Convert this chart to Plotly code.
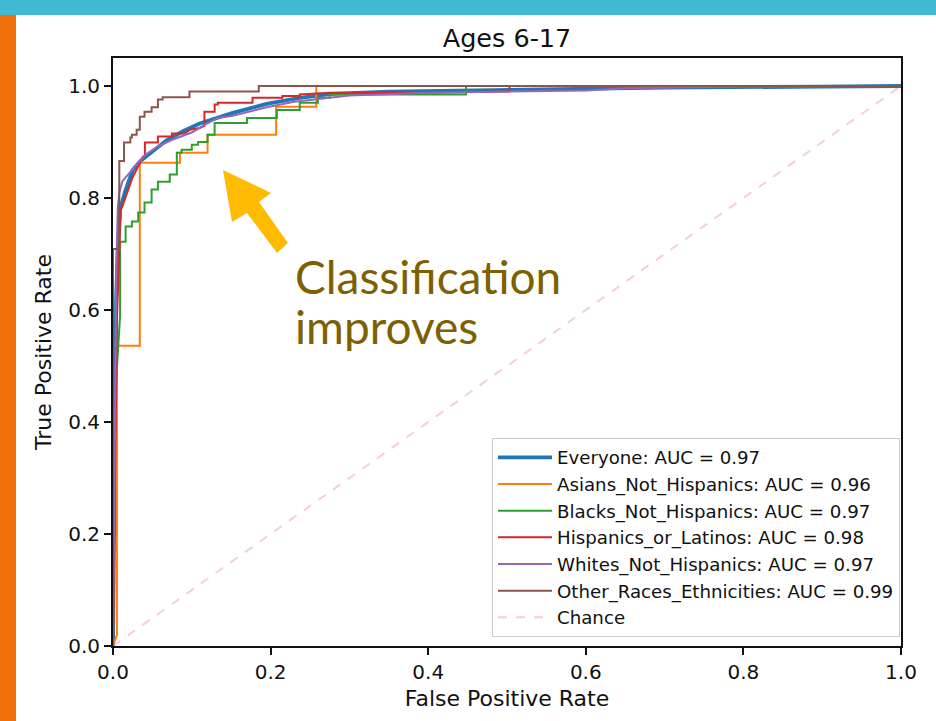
import plotly.graph_objects as go

# ---------------- data ----------------
group_names = ["Everyone", "Asians_Not_Hispanics", "Blacks_Not_Hispanics",
               "Hispanics_or_Latinos", "Whites_Not_Hispanics", "Other_Races_Ethnicities"]
auc_values = [0.97, 0.96, 0.97, 0.98, 0.97, 0.99]
colors = ["#1f77b4", "#ff7f0e", "#2ca02c", "#d62728", "#9467bd", "#8c564b"]

fpr_everyone = [0, 0.002, 0.004, 0.006, 0.009, 0.015, 0.025, 0.034, 0.047, 0.068, 0.09, 0.11,
                0.152, 0.195, 0.237, 0.278, 0.35, 0.5, 0.7, 0.9, 1.0]
tpr_everyone = [0, 0.40, 0.62, 0.71, 0.78, 0.81, 0.85, 0.865, 0.88, 0.903, 0.92, 0.933,
                0.952, 0.968, 0.979, 0.986, 0.99, 0.993, 0.997, 0.999, 1.0]

fpr_asians = [0, 0.005, 0.005, 0.034, 0.034, 0.085, 0.085, 0.12, 0.12, 0.207, 0.207, 0.258, 0.258, 1.0]
tpr_asians = [0, 0.02, 0.536, 0.536, 0.863, 0.863, 0.881, 0.881, 0.913, 0.913, 0.963, 0.963, 1.0, 1.0]

fpr_blacks = [0, 0.003, 0.009, 0.009, 0.016, 0.016, 0.024, 0.024, 0.032, 0.032, 0.040, 0.040,
              0.049, 0.049, 0.057, 0.057, 0.072, 0.072, 0.081, 0.081, 0.087, 0.087, 0.100, 0.100,
              0.108, 0.108, 0.120, 0.120, 0.129, 0.129, 0.170, 0.170, 0.208, 0.208, 0.237, 0.237,
              0.260, 0.260, 0.275, 0.275, 0.448, 0.448, 1.0]
tpr_blacks = [0, 0.45, 0.59, 0.722, 0.722, 0.749, 0.749, 0.758, 0.758, 0.774, 0.774, 0.792,
              0.792, 0.815, 0.815, 0.829, 0.829, 0.842, 0.842, 0.881, 0.881, 0.886, 0.886, 0.895,
              0.895, 0.900, 0.900, 0.913, 0.913, 0.934, 0.934, 0.943, 0.943, 0.957, 0.957, 0.970,
              0.970, 0.979, 0.979, 0.985, 0.985, 1.0, 1.0]

fpr_hispanics = [0, 0.0025, 0.005, 0.0076, 0.010, 0.0127, 0.0177, 0.0215, 0.0253, 0.0304, 0.0342,
                 0.038, 0.0405, 0.0405, 0.057, 0.057, 0.0747, 0.0747, 0.0911, 0.0975, 0.110,
                 0.116, 0.116, 0.129, 0.129, 0.133, 0.133, 0.177, 0.177, 0.215, 0.215, 0.237,
                 0.237, 0.275, 0.389, 0.503, 0.503, 1.0]
tpr_hispanics = [0, 0.349, 0.582, 0.695, 0.779, 0.788, 0.811, 0.824, 0.838, 0.851, 0.863,
                 0.874, 0.874, 0.899, 0.899, 0.910, 0.910, 0.915, 0.915, 0.922, 0.925,
                 0.929, 0.954, 0.954, 0.967, 0.967, 0.970, 0.970, 0.979, 0.979, 0.982, 0.982,
                 0.985, 0.988, 0.988, 0.990, 1.0, 1.0]

fpr_whites = [0, 0.002, 0.004, 0.006, 0.008, 0.012, 0.022, 0.032, 0.041, 0.057, 0.075, 0.087,
              0.1, 0.117, 0.133, 0.152, 0.195, 0.23, 0.3, 0.4, 0.6, 0.65, 0.8, 1.0]
tpr_whites = [0, 0.30, 0.65, 0.78, 0.81, 0.83, 0.847, 0.863, 0.877, 0.892, 0.904, 0.91,
              0.917, 0.931, 0.943, 0.947, 0.962, 0.972, 0.983, 0.988, 0.992, 0.996, 0.999, 1.0]

fpr_other = [0, 0, 0.008, 0.008, 0.014, 0.014, 0.022, 0.022, 0.024, 0.024, 0.030, 0.030,
             0.034, 0.034, 0.040, 0.040, 0.049, 0.049, 0.057, 0.057, 0.063, 0.063, 0.097,
             0.097, 0.185, 0.185, 1.0]
tpr_other = [0, 0.709, 0.709, 0.866, 0.866, 0.899, 0.899, 0.908, 0.908, 0.913, 0.913, 0.922,
             0.922, 0.945, 0.945, 0.954, 0.954, 0.962, 0.962, 0.976, 0.976, 0.980, 0.980,
             0.990, 0.990, 1.0, 1.0]

chance_x = [0, 1]
chance_y = [0, 1]

x_ticks = [0.0, 0.2, 0.4, 0.6, 0.8, 1.0]
y_ticks = [0.0, 0.2, 0.4, 0.6, 0.8, 1.0]

title_text = "Ages 6-17"
x_label = "False Positive Rate"
y_label = "True Positive Rate"
note_lines = ["Classification", "improves"]

# ---------------- layout geometry ----------------
W, H = 936, 721
L, R, T, B = 113, 35, 58, 75
PW, PH = W - L - R, H - T - B


def px(x):
    return (x - L) / PW


def py(y):
    return (H - B - y) / PH


curves = [(fpr_everyone, tpr_everyone), (fpr_asians, tpr_asians), (fpr_blacks, tpr_blacks),
          (fpr_hispanics, tpr_hispanics), (fpr_whites, tpr_whites), (fpr_other, tpr_other)]

fig = go.Figure()
for i, (fx, ty) in enumerate(curves):
    fig.add_trace(go.Scatter(
        x=fx, y=ty, mode="lines",
        name=f"{group_names[i]}: AUC = {auc_values[i]:.2f}",
        line=dict(color=colors[i], width=3.8 if i == 0 else 2),
    ))
fig.add_trace(go.Scatter(x=chance_x, y=chance_y, mode="lines", name="Chance",
                         line=dict(color="rgba(227,119,194,0.38)", width=2, dash="dash")))

axis_font = dict(family="DejaVu Sans", size=20, color="#111")
label_font = dict(family="DejaVu Sans", size=22, color="#111")
fig.update_xaxes(range=[0, 1], tickvals=x_ticks, tickformat=".1f", ticks="outside", ticklen=7,
                 tickwidth=1.5, tickcolor="#111", showline=True, linecolor="#111", linewidth=2,
                 mirror=True, showgrid=False, zeroline=False, tickfont=axis_font,
                 title=dict(text=x_label, font=label_font, standoff=8))
fig.update_yaxes(range=[0, 1.05], tickvals=y_ticks, tickformat=".1f", ticks="outside", ticklen=7,
                 tickwidth=1.5, tickcolor="#111", showline=True, linecolor="#111", linewidth=2,
                 mirror=True, showgrid=False, zeroline=False, tickfont=axis_font,
                 title=dict(text=y_label, font=label_font, standoff=10))

shapes = [
    dict(type="rect", xref="paper", yref="paper", x0=px(0), x1=px(W), y0=py(15), y1=py(0),
         fillcolor="#41bbd4", line=dict(width=0), layer="above"),
    dict(type="rect", xref="paper", yref="paper", x0=px(0), x1=px(16), y0=py(H), y1=py(15),
         fillcolor="#f0720e", line=dict(width=0), layer="above"),
]
arrow_pts = [(223, 170), (271, 193), (259, 202), (288, 243), (277, 253), (247, 213), (232, 222)]
path = "M " + " L ".join(f"{px(a):.5f},{py(b):.5f}" for a, b in arrow_pts) + " Z"
shapes.append(dict(type="path", xref="paper", yref="paper", path=path,
                   fillcolor="#ffbb00", line=dict(width=0), layer="above"))

annotations = [
    dict(text=note_lines[0], xref="paper", yref="paper", x=px(293), y=py(276),
         xanchor="left", yanchor="middle", showarrow=False, height=50, valign="middle",
         font=dict(family="Lato", size=46, color="#7f6000")),
    dict(text=note_lines[1], xref="paper", yref="paper", x=px(293), y=py(326),
         xanchor="left", yanchor="middle", showarrow=False, height=50, valign="middle",
         font=dict(family="Lato", size=46, color="#7f6000")),
]

fig.update_layout(
    width=W, height=H, autosize=False,
    margin=dict(l=L, r=R, t=T, b=B, pad=0),
    paper_bgcolor="white", plot_bgcolor="white",
    title=dict(text=title_text, x=(L + PW / 2) / W, xanchor="center", y=1 - 38 / H,
               yanchor="middle", font=dict(family="DejaVu Sans", size=25.5, color="#111")),
    showlegend=True,
    legend=dict(x=px(900), xanchor="right", y=py(637), yanchor="bottom",
                bgcolor="rgba(255,255,255,0.85)", bordercolor="#cccccc", borderwidth=1,
                font=dict(family="DejaVu Sans", size=18.2, color="#111"),
                itemwidth=54, tracegroupgap=0),
    shapes=shapes,
    annotations=annotations,
)

fig.write_html("out.html")
